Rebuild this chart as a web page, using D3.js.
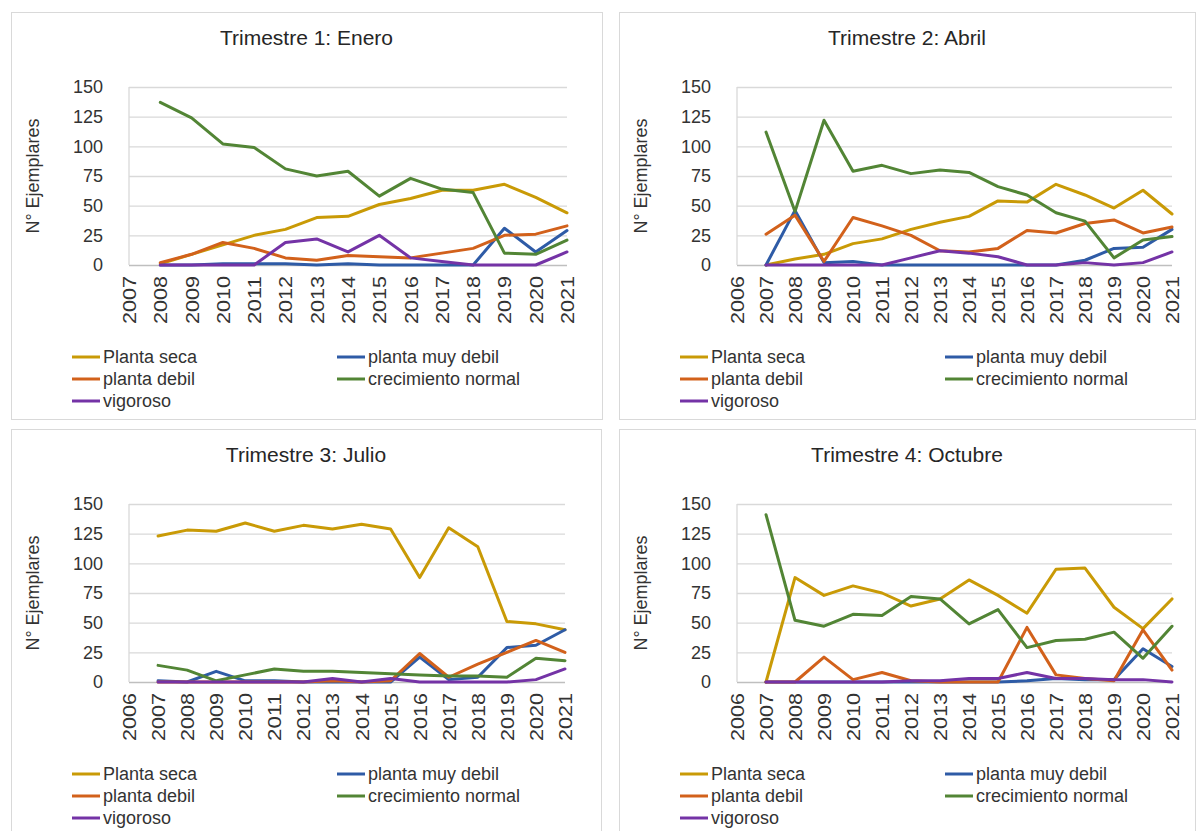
<!DOCTYPE html>
<html><head><meta charset="utf-8">
<script src="https://cdn.jsdelivr.net/npm/d3@7"></script>
<style>body{margin:0;background:#fff} svg{display:block}</style>
</head><body>
<svg id="c" width="1197" height="831"></svg>
<script>
// ---- categories / tick labels ----
const years1 = ["2007","2008","2009","2010","2011","2012","2013","2014","2015","2016","2017","2018","2019","2020","2021"];
const years2 = ["2006","2007","2008","2009","2010","2011","2012","2013","2014","2015","2016","2017","2018","2019","2020","2021"];
const yTicks = [0, 25, 50, 75, 100, 125, 150];
const seriesNames = ["Planta seca", "planta muy debil", "planta debil", "crecimiento normal", "vigoroso"];
const seriesColors = ["#C99A06", "#2E5BA6", "#D2611B", "#528535", "#7433A6"];
const panelTitles = ["Trimestre 1: Enero", "Trimestre 2: Abril", "Trimestre 3: Julio", "Trimestre 4: Octubre"];
const yTitle = "N° Ejemplares";

// ---- Trimestre 1 (2007-2021) ----
const t1Seca     = [null, 1, 9, 17, 25, 30, 40, 41, 51, 56, 63, 63, 68, 57, 44];
const t1MuyDebil = [null, 0, 0, 1, 1, 1, 0, 1, 0, 0, 0, 0, 31, 11, 29];
const t1Debil    = [null, 2, 9, 19, 14, 6, 4, 8, 7, 6, 10, 14, 25, 26, 33];
const t1Normal   = [null, 137, 124, 102, 99, 81, 75, 79, 58, 73, 64, 61, 10, 9, 21];
const t1Vigoroso = [null, 0, 0, 0, 0, 19, 22, 11, 25, 6, 3, 0, 0, 0, 11];

// ---- Trimestre 2 (2006-2021) ----
const t2Seca     = [null, 0, 5, 9, 18, 22, 30, 36, 41, 54, 53, 68, 59, 48, 63, 43];
const t2MuyDebil = [null, 0, 46, 2, 3, 0, 0, 0, 0, 0, 0, 0, 4, 14, 15, 30];
const t2Debil    = [null, 26, 42, 3, 40, 33, 25, 12, 11, 14, 29, 27, 35, 38, 27, 32];
const t2Normal   = [null, 112, 45, 122, 79, 84, 77, 80, 78, 66, 59, 44, 37, 6, 21, 24];
const t2Vigoroso = [null, 0, 0, 0, 0, 0, 6, 12, 10, 7, 0, 0, 2, 0, 2, 11];

// ---- Trimestre 3 (2006-2021) ----
const t3Seca     = [null, 123, 128, 127, 134, 127, 132, 129, 133, 129, 88, 130, 114, 51, 49, 44];
const t3MuyDebil = [null, 1, 0, 9, 1, 1, 0, 0, 0, 0, 21, 2, 4, 29, 31, 44];
const t3Debil    = [null, 0, 0, 0, 0, 0, 0, 1, 0, 1, 24, 4, 15, 25, 35, 25];
const t3Normal   = [null, 14, 10, 1, 6, 11, 9, 9, 8, 7, 6, 5, 5, 4, 20, 18];
const t3Vigoroso = [null, 0, 0, 0, 0, 0, 0, 3, 0, 3, 0, 0, 0, 0, 2, 11];

// ---- Trimestre 4 (2006-2021) ----
const t4Seca     = [null, 0, 88, 73, 81, 75, 64, 70, 86, 73, 58, 95, 96, 63, 45, 70];
const t4MuyDebil = [null, 0, 0, 0, 0, 0, 0, 0, 0, 0, 1, 3, 2, 2, 28, 13];
const t4Debil    = [null, 0, 0, 21, 2, 8, 1, 0, 0, 0, 46, 6, 3, 1, 44, 10];
const t4Normal   = [null, 141, 52, 47, 57, 56, 72, 70, 49, 61, 29, 35, 36, 42, 20, 47];
const t4Vigoroso = [null, 0, 0, 0, 0, 0, 1, 1, 3, 3, 8, 3, 3, 2, 2, 0];

// ---- layout ----
const panels = [
  { title: panelTitles[0], years: years1, series: [t1Seca, t1MuyDebil, t1Debil, t1Normal, t1Vigoroso],
    box: {x: 11, y: 12, w: 591, h: 407}, plotRight: 567 },
  { title: panelTitles[1], years: years2, series: [t2Seca, t2MuyDebil, t2Debil, t2Normal, t2Vigoroso],
    box: {x: 619, y: 12, w: 576, h: 407}, plotRight: 1172 },
  { title: panelTitles[2], years: years2, series: [t3Seca, t3MuyDebil, t3Debil, t3Normal, t3Vigoroso],
    box: {x: 11, y: 429, w: 590, h: 420}, plotRight: 565 },
  { title: panelTitles[3], years: years2, series: [t4Seca, t4MuyDebil, t4Debil, t4Normal, t4Vigoroso],
    box: {x: 619, y: 429, w: 576, h: 420}, plotRight: 1172 }
];

const svg = d3.select("#c");
const FONT = "'Liberation Sans', Arial, sans-serif";
const TXT = "#333333";

panels.forEach(p => {
  const b = p.box;
  const g = svg.append("g");
  g.append("rect").attr("x", b.x + 0.5).attr("y", b.y + 0.5).attr("width", b.w).attr("height", b.h)
    .attr("fill", "#fff").attr("stroke", "#d9d9d9").attr("stroke-width", 1);

  const left = b.x + 118, right = p.plotRight, top = b.y + 75, bottom = b.y + 253;
  const x = d3.scalePoint().domain(p.years).range([left, right]);
  const y = d3.scaleLinear().domain([0, 150]).range([bottom, top]);

  // title
  g.append("text").attr("x", b.x + b.w / 2).attr("y", b.y + 33)
    .attr("text-anchor", "middle").attr("font-family", FONT).attr("font-size", 21)
    .attr("fill", "#262626").text(p.title);

  // y axis + gridlines
  const ya = g.append("g").attr("transform", `translate(${left},0)`)
    .call(d3.axisLeft(y).tickValues(yTicks).tickSizeInner(-(right - left)).tickSizeOuter(0).tickPadding(26));
  ya.select(".domain").remove();
  ya.selectAll("line").attr("stroke", d => d === 0 ? "#bfbfbf" : "#d9d9d9").attr("stroke-width", 1.3);
  ya.selectAll("text").attr("font-family", FONT).attr("font-size", 18).attr("fill", TXT);
  g.append("line").attr("x1", left).attr("x2", left).attr("y1", top).attr("y2", bottom)
    .attr("stroke", "#d9d9d9").attr("stroke-width", 1.3);

  // x axis
  const xa = g.append("g").attr("transform", `translate(0,${bottom})`)
    .call(d3.axisBottom(x).tickSize(0));
  xa.select(".domain").remove();
  xa.selectAll("text").attr("y", 0).attr("x", -11).attr("dy", "0.36em")
    .attr("transform", "rotate(-90)").style("text-anchor", "end")
    .attr("textLength", 48).attr("lengthAdjust", "spacingAndGlyphs")
    .attr("font-family", FONT).attr("font-size", 18).attr("fill", TXT);

  // y title
  g.append("text").attr("transform", `translate(${b.x + 28},${(top + bottom) / 2}) rotate(-90)`)
    .attr("text-anchor", "middle").attr("font-family", FONT).attr("font-size", 18)
    .attr("fill", TXT).text(yTitle);

  // lines
  const line = d3.line().defined(d => d[1] != null).x(d => x(d[0])).y(d => y(d[1]));
  p.series.forEach((vals, i) => {
    g.append("path").datum(p.years.map((yr, k) => [yr, vals[k]]))
      .attr("d", line).attr("fill", "none").attr("stroke", seriesColors[i])
      .attr("stroke-width", 3).attr("stroke-linejoin", "round").attr("stroke-linecap", "round");
  });

  // legend
  const cols = [b.x + 61, b.x + 326];
  const rows = [b.y + 345, b.y + 367, b.y + 389];
  seriesNames.forEach((name, i) => {
    const cx = cols[i % 2], cy = rows[Math.floor(i / 2)];
    g.append("line").attr("x1", cx).attr("x2", cx + 28).attr("y1", cy).attr("y2", cy)
      .attr("stroke", seriesColors[i]).attr("stroke-width", 3);
    g.append("text").attr("x", cx + 31).attr("y", cy).attr("dy", "0.35em")
      .attr("font-family", FONT).attr("font-size", 18).attr("fill", TXT).text(name);
  });
});
</script>
</body></html>
